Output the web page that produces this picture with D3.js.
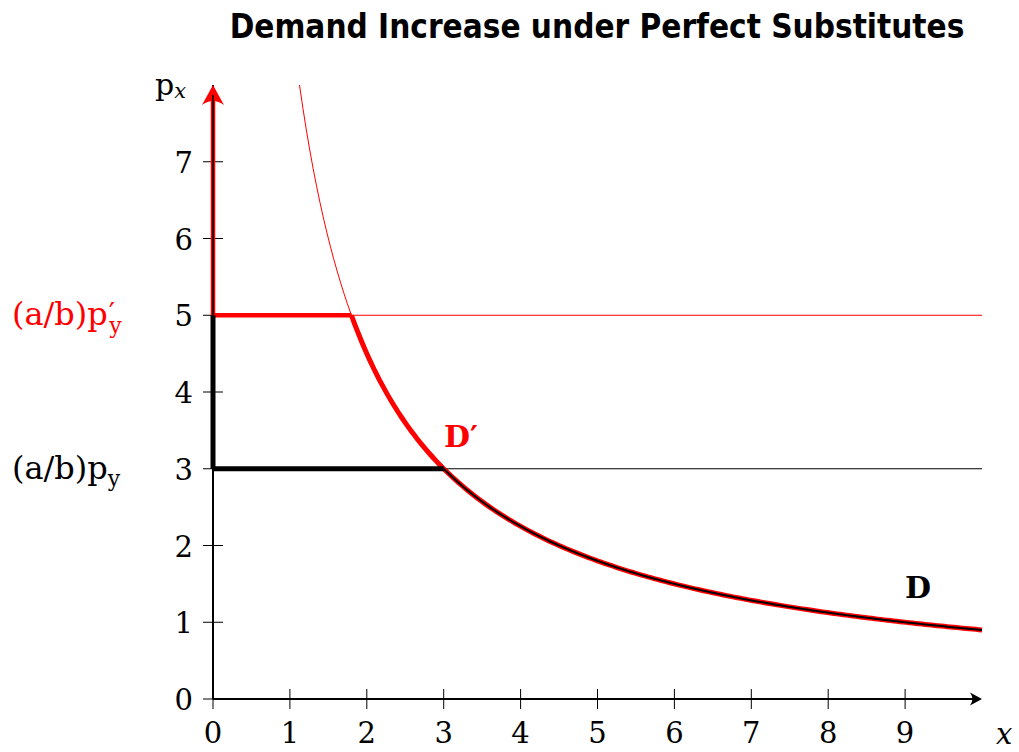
<!DOCTYPE html>
<html>
<head>
<meta charset="utf-8">
<script src="https://cdn.jsdelivr.net/npm/d3@7"></script>
<style>
  body { margin: 0; background: #fff; }
  text { font-family: "DejaVu Serif", "Liberation Serif", serif; }
</style>
</head>
<body>
<div id="chart"></div>
<script>
// dane wykresu
var xTicks = [0, 1, 2, 3, 4, 5, 6, 7, 8, 9];
var yTicks = [0, 1, 2, 3, 4, 5, 6, 7];
var demandK = 9;          // p = k / x
var priceOld = 3;         // (a/b)p_y
var priceNew = 5;         // (a/b)p'_y
var xMax = 10, yMax = 8;

var width = 1019, height = 752;
var x = d3.scaleLinear().domain([0, xMax]).range([213, 982]);
var y = d3.scaleLinear().domain([0, yMax]).range([699, 85]);

var svg = d3.select("#chart").append("svg")
  .attr("width", width).attr("height", height);

// grot strzałki rysowany jako ścieżka
function arrowHead(px, py, angle, color, size) {
  svg.append("path")
    .attr("d", "M0,0 L" + (-size) + "," + (-size * 0.55) + " Q" + (-size * 0.6) + ",0 " + (-size) + "," + (size * 0.55) + " Z")
    .attr("transform", "translate(" + px + "," + py + ") rotate(" + angle + ")")
    .style("fill", color);
}

// tytuł
svg.append("text")
  .attr("x", 597).attr("y", 38)
  .attr("text-anchor", "middle")
  .style("font-family", "'DejaVu Sans Condensed', 'DejaVu Sans', sans-serif")
  .style("font-weight", "bold")
  .style("font-size", "33px")
  .text("Demand Increase under Perfect Substitutes");

function curve(x0, x1) {
  var pts = d3.range(0, 201).map(function (i) {
    var xv = x0 + (x1 - x0) * i / 200;
    return [xv, demandK / xv];
  });
  return d3.line().x(function (d) { return x(d[0]); }).y(function (d) { return y(d[1]); })(pts);
}

// cienkie linie
svg.append("line")
  .attr("x1", x(0)).attr("x2", x(xMax)).attr("y1", y(priceOld)).attr("y2", y(priceOld))
  .style("stroke", "#000").style("stroke-width", 1);
svg.append("line")
  .attr("x1", x(0)).attr("x2", x(xMax)).attr("y1", y(priceNew)).attr("y2", y(priceNew))
  .style("stroke", "#f00").style("stroke-width", 1);
svg.append("path")
  .attr("d", curve(demandK / yMax, xMax))
  .style("fill", "none").style("stroke", "#f00").style("stroke-width", 1);

// osie
svg.append("line")
  .attr("x1", x(0)).attr("x2", x(xMax) - 4).attr("y1", y(0)).attr("y2", y(0))
  .style("stroke", "#000").style("stroke-width", 2);
arrowHead(x(xMax), y(0), 0, "#000", 12);
svg.append("line")
  .attr("x1", x(0)).attr("x2", x(0)).attr("y1", y(0)).attr("y2", y(yMax))
  .style("stroke", "#000").style("stroke-width", 2);

svg.selectAll(".xt").data(xTicks).enter().append("line")
  .attr("x1", function (d) { return x(d); }).attr("x2", function (d) { return x(d); })
  .attr("y1", y(0) - 10).attr("y2", y(0) + 10)
  .style("stroke", "#000").style("stroke-width", 1);
svg.selectAll(".yt").data(yTicks).enter().append("line")
  .attr("x1", x(0) - 10).attr("x2", x(0) + 10)
  .attr("y1", function (d) { return y(d); }).attr("y2", function (d) { return y(d); })
  .style("stroke", "#000").style("stroke-width", 1);

svg.selectAll(".xl").data(xTicks).enter().append("text")
  .attr("x", function (d) { return x(d); }).attr("y", 743)
  .attr("text-anchor", "middle").style("font-size", "29px")
  .text(function (d) { return d; });
svg.selectAll(".yl").data(yTicks).enter().append("text")
  .attr("x", 193).attr("y", function (d) { return y(d) + 11; })
  .attr("text-anchor", "end").style("font-size", "29px")
  .text(function (d) { return d; });

// popyt D (czarny) i D' (czerwony)
var red = svg.append("g").style("stroke", "#f00").style("fill", "none");
red.append("path").attr("d", curve(demandK / priceNew, xMax)).style("stroke-width", 5);
red.append("line")
  .attr("x1", x(0)).attr("x2", x(demandK / priceNew)).attr("y1", y(priceNew)).attr("y2", y(priceNew))
  .style("stroke-width", 4.5);
red.append("line")
  .attr("x1", x(0)).attr("x2", x(0)).attr("y1", y(priceNew)).attr("y2", y(yMax) + 8)
  .style("stroke-width", 4.5);
arrowHead(x(0), y(yMax), -90, "#f00", 20);

var blk = svg.append("g").style("stroke", "#000").style("fill", "none");
blk.append("path").attr("d", curve(demandK / priceOld, xMax)).style("stroke-width", 2);
blk.append("line")
  .attr("x1", x(0)).attr("x2", x(demandK / priceOld)).attr("y1", y(priceOld)).attr("y2", y(priceOld))
  .style("stroke-width", 5);
blk.append("line")
  .attr("x1", x(0)).attr("x2", x(0)).attr("y1", y(priceOld)).attr("y2", y(priceNew))
  .style("stroke-width", 5);
svg.append("line")
  .attr("x1", x(0)).attr("x2", x(0)).attr("y1", y(priceNew)).attr("y2", y(yMax) + 10)
  .style("stroke", "#000").style("stroke-width", 1.5);

// etykiety
svg.append("text").attr("x", 155).attr("y", 95).style("font-size", "30px")
  .html("p<tspan font-size='21px' font-style='italic' dy='3'>x</tspan>");
svg.append("text").attr("x", 996).attr("y", 744).style("font-size", "29px").style("font-style", "italic").text("x");

svg.append("text").attr("x", 12).attr("y", y(priceNew) + 10)
  .style("font-size", "32px").style("fill", "#f00")
  .html("(a/b)p<tspan font-size='28px' dx='1' dy='-2'>′</tspan><tspan font-size='22px' dx='-6' dy='10'>y</tspan>");

svg.append("text").attr("x", 12).attr("y", y(priceOld) + 10)
  .style("font-size", "32px")
  .html("(a/b)p<tspan font-size='22px' dy='7'>y</tspan>");

svg.append("text").attr("x", 444).attr("y", 447)
  .style("font-size", "30px").style("font-weight", "bold").style("fill", "#f00").text("D′");
svg.append("text").attr("x", 905).attr("y", 598)
  .style("font-size", "30px").style("font-weight", "bold").text("D");
</script>
</body>
</html>
